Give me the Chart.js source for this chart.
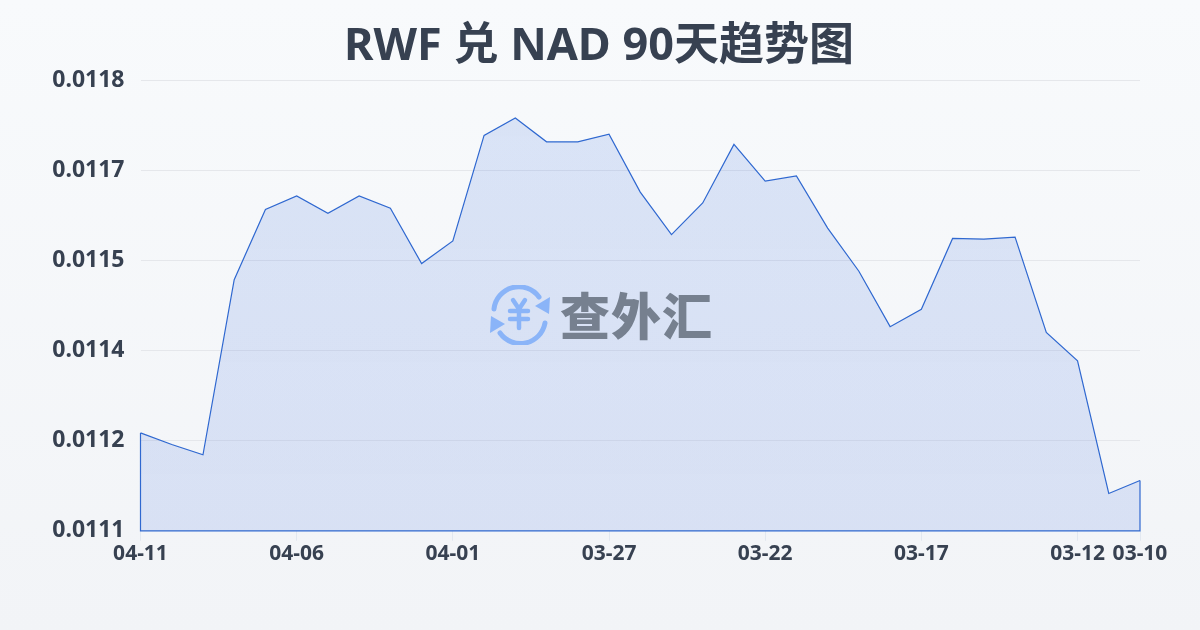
<!DOCTYPE html>
<html lang="zh"><head><meta charset="utf-8">
<style>
html,body{margin:0;padding:0;width:1200px;height:630px;overflow:hidden}
body{background:linear-gradient(180deg,#f8fafc 0%,#f2f4f7 100%);position:relative;font-family:"Noto Sans","Noto Sans CJK SC",sans-serif}
#c{position:absolute;left:0;top:0}
#wm{position:absolute;left:489px;top:285px;height:60px;display:flex;align-items:center;pointer-events:none}
#wm span{font:900 50px "Noto Sans CJK SC",sans-serif;color:#76808f;margin-left:9px;letter-spacing:1px;line-height:60px;position:relative;top:-2px}
</style>
<script src="https://cdn.jsdelivr.net/npm/chart.js@4/dist/chart.umd.min.js"></script>
</head><body>
<canvas id="c" width="1200" height="630"></canvas>
<div id="wm">
<svg width="62" height="60" viewBox="0 0 62 60" fill="none" stroke="#8ab4f8" stroke-width="5" stroke-linecap="round">
<path d="M5 24A25 25 0 0 1 50 12"/><path d="M56 38A25 25 0 0 1 11 48"/>
<path d="M61 12L60 29L46 21Z" fill="#8ab4f8" stroke="none"/><path d="M1 48L2 31L16 39Z" fill="#8ab4f8" stroke="none"/>
<path d="M24 15L30 24L36 15M21 26H39M21 34H39M30 24V43" stroke-width="4.5"/>
</svg>
<span>查外汇</span></div>
<script>
const titleText = 'RWF 兑 NAD 90天趋势图';
const dates = ['04-11','04-10','04-09','04-08','04-07','04-06','04-05','04-04','04-03','04-02','04-01','03-31','03-30','03-29','03-28','03-27','03-26','03-25','03-24','03-23','03-22','03-21','03-20','03-19','03-18','03-17','03-16','03-15','03-14','03-13','03-12','03-11','03-10'];
const rates = [0.011252,0.011234,0.011218,0.011490,0.011599,0.011620,0.011593,0.011620,0.011601,0.011515,0.011550,0.011714,0.011741,0.011704,0.011704,0.011716,0.011626,0.011560,0.011609,0.011700,0.011643,0.011651,0.011570,0.011503,0.011417,0.011444,0.011554,0.011553,0.011556,0.011408,0.011364,0.011158,0.011178];
const shownLabels = ['04-11','04-06','04-01','03-27','03-22','03-17','03-12','03-10'];
const yMin = 0.0111, yMax = 0.0118, yStep = 0.00014;
const ink = '#374151', lineBlue = '#2f68d0';

const closeArea = {id:'closeArea',
 afterLayout(ch){ if(ch.titleBlock) ch.titleBlock.right = 1198; },
 afterDatasetsDraw(ch){
  const {ctx,scales:{x,y}} = ch;
  const b = y.getPixelForValue(yMin), l = x.getPixelForValue(0), r = x.getPixelForValue(dates.length-1);
  ctx.save();ctx.strokeStyle=lineBlue;ctx.lineWidth=1.2;ctx.beginPath();
  ctx.moveTo(l,y.getPixelForValue(rates[0]));ctx.lineTo(l,b);ctx.lineTo(r,b);ctx.lineTo(r,y.getPixelForValue(rates[rates.length-1]));
  ctx.stroke();ctx.restore();
}};

new Chart(document.getElementById('c'),{
  type:'line',
  data:{labels:dates,datasets:[{data:rates,borderColor:lineBlue,borderWidth:1.2,pointRadius:0,tension:0,fill:'start',
    backgroundColor(c){const a=c.chart.chartArea;if(!a)return 'rgba(59,110,220,.155)';
      const g=c.chart.ctx.createLinearGradient(0,a.top,0,a.bottom);g.addColorStop(0,'rgba(59,110,225,.155)');g.addColorStop(1,'rgba(59,105,220,.14)');return g;}}]},
  options:{
    responsive:false,animation:false,
    layout:{padding:{left:0,right:60,top:0,bottom:62}},
    plugins:{legend:{display:false},tooltip:{enabled:false},
      title:{display:true,text:titleText,color:ink,font:{family:'"Noto Sans","Noto Sans CJK SC",sans-serif',size:45,weight:'700'},padding:{top:20,bottom:6}}},
    scales:{
      x:{type:'category',offset:false,
        afterBuildTicks(s){s.ticks=s.ticks.filter(t=>shownLabels.includes(dates[t.value]));},
        ticks:{autoSkip:false,maxRotation:0,minRotation:0,color:ink,font:{family:'"Noto Sans",sans-serif',size:21,weight:'700'},padding:1},
        grid:{drawOnChartArea:false,drawTicks:true,tickLength:10,color:'#e2e8f0'},
        border:{display:false}},
      y:{min:yMin,max:yMax,
        afterBuildTicks(s){const t=[];for(let i=0;i<=5;i++)t.push({value:yMin+i*yStep});s.ticks=t;},
        afterFit(s){s.width=140.5;},
        ticks:{color:ink,font:{family:'"Noto Sans",sans-serif',size:23,weight:'700'},padding:16,callback:v=>v.toFixed(4)},
        grid:{color:'#e5e7eb',lineWidth:1,drawTicks:false},
        border:{display:false}}
    }
  },
  plugins:[closeArea]
});
</script></body></html>
